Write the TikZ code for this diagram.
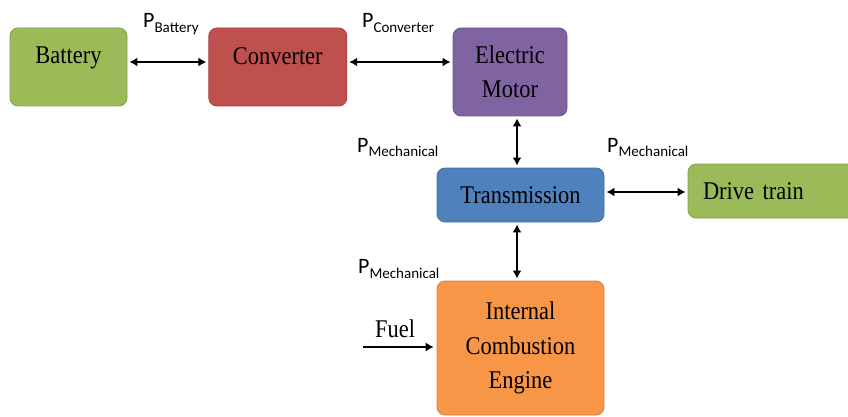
\documentclass[tikz,border=0pt]{standalone}
\usepackage{fontspec}
\setmainfont{Liberation Serif}
\newfontfamily\boxfont[FakeStretch=0.88]{Liberation Serif}
\newfontfamily\calibri{Carlito}
\usetikzlibrary{arrows.meta,positioning}
\definecolor{battgreen}{HTML}{9BBB59}
\definecolor{convred}{HTML}{C0504D}
\definecolor{motorpurple}{HTML}{8064A2}
\definecolor{transblue}{HTML}{4F81BD}
\definecolor{engineorange}{HTML}{F79646}
\newcommand{\pflow}[1]{P\raisebox{-5pt}{\fontsize{15}{15}\selectfont #1}}

\begin{document}
\begin{tikzpicture}[
  x=1pt, y=-1pt,
  >={Latex[length=8pt,width=9pt]},
  font=\boxfont\fontsize{25.5}{34.5}\selectfont,
  % Styles
  block/.style={rounded corners=8pt, draw=#1!85!black, line width=0.8pt, fill=#1,
    text=black, align=center, inner sep=0pt},
  flow/.style={<->, line width=1.6pt, shorten <=2pt, shorten >=2pt},
  plabel/.style={anchor=base west, inner sep=0pt, font=\calibri\fontsize{22}{24}\selectfont},
]
\useasboundingbox (0,0) rectangle (848,417);

% === ROW 1: electric path ===
\node[block=battgreen, minimum width=117pt, minimum height=78pt] (battery) at (68.5,67)
  {\raisebox{3.5pt}[0pt][0pt]{Battery}};
\node[block=convred, minimum width=138pt, minimum height=78pt, right=81pt of battery] (converter)
  {\raisebox{2pt}[0pt][0pt]{Converter}};
\node[block=motorpurple, minimum width=114pt, minimum height=88pt] (motor) at (510,72)
  {Electric\\Motor};

% === ROW 2: transmission ===
\node[block=transblue, minimum width=167pt, minimum height=54pt] (transmission) at (520.5,195)
  {Transmission};
\node[block=battgreen, text width=142pt, inner xsep=15pt, align=left, minimum height=54pt]
  (drivetrain) at (774,191) {Drive train};

% === ROW 3: engine ===
\node[block=engineorange, minimum width=167pt, minimum height=134pt] (engine) at (520.5,348)
  {Internal\\Combustion\\Engine};
\coordinate (fuelin) at (363,347);

% === Labels ===
\node[plabel] (pbatt) at (143,28) {\pflow{Battery}};
\node[plabel] (pconv) at (362,28) {\pflow{Converter}};
\node[plabel] (pmechup) at (357,152) {\pflow{Mechanical}};
\node[plabel] (pmechright) at (607,152) {\pflow{Mechanical}};
\node[plabel] (pmechdown) at (358,273) {\pflow{Mechanical}};
\node[anchor=base west, inner sep=0pt] (fuel) at (375,337) {Fuel};

% === Arrows ===
\draw[flow] ([yshift=5pt]battery.east) -- ([yshift=5pt]converter.west);
\draw[flow] ([yshift=5pt]converter.east) -- ([yshift=10pt]motor.west);
\draw[flow] ([xshift=7pt]motor.south) -- ([xshift=-3.5pt]transmission.north);
\draw[flow] ([yshift=3pt]transmission.east) -- ([yshift=-1pt]drivetrain.west);
\draw[flow] ([xshift=-3.5pt]transmission.south) -- ([xshift=-3.5pt]engine.north);
\draw[->, line width=1.2pt, shorten >=3pt] (fuelin) -- (fuelin -| engine.west);

\end{tikzpicture}
\end{document}
